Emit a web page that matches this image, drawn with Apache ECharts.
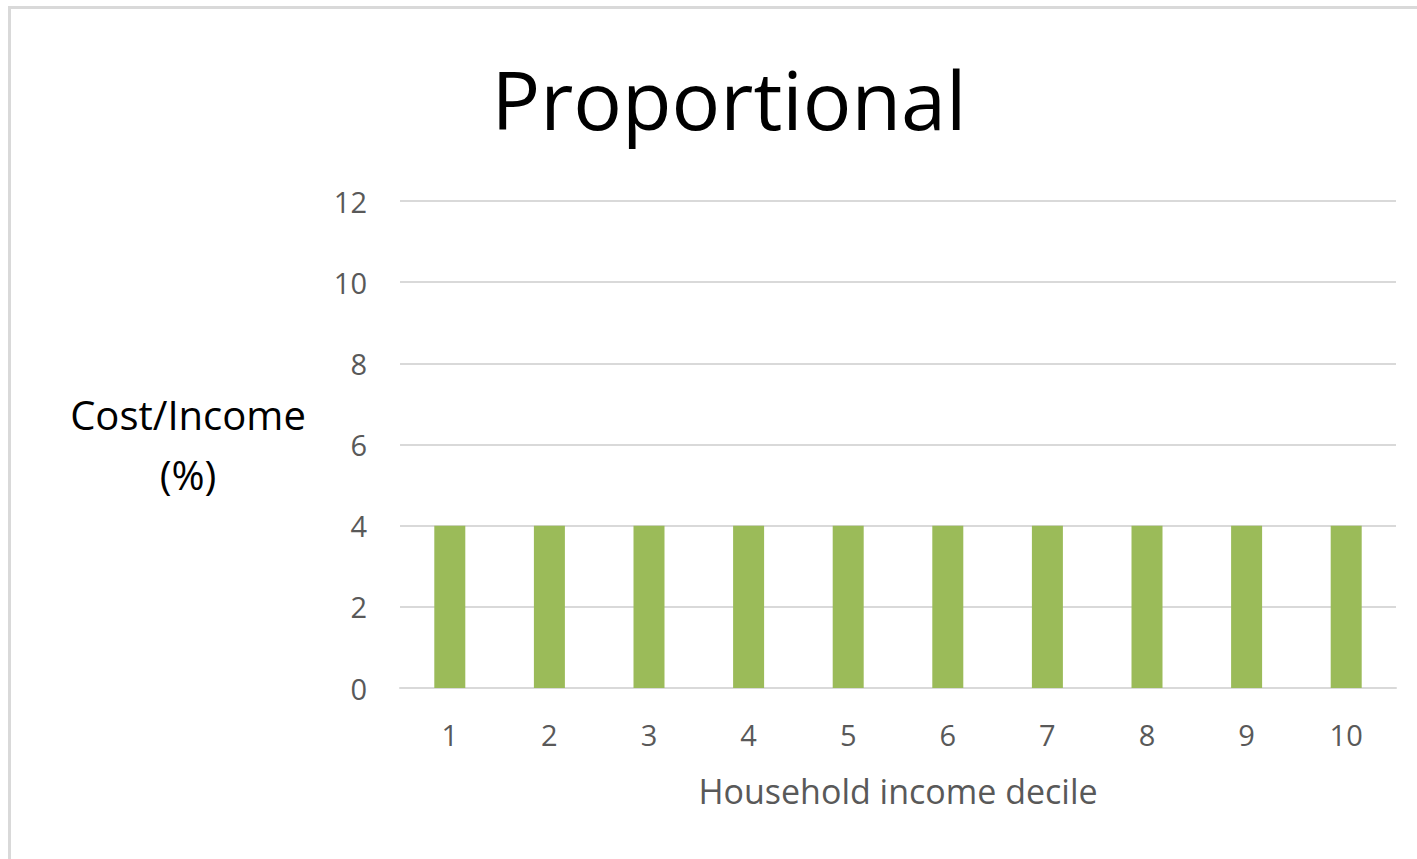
<!DOCTYPE html>
<html>
<head>
<meta charset="utf-8">
<style>
html,body{margin:0;padding:0;background:#fff;}
#chart{width:1417px;height:859px;}
</style>
<script src="https://cdn.jsdelivr.net/npm/echarts@6/dist/echarts.min.js"></script>
</head>
<body>
<div id="chart"></div>
<script>
const categories = ['1','2','3','4','5','6','7','8','9','10'];
const costIncome = [4,4,4,4,4,4,4,4,4,4];
const chartTitle = 'Proportional';
const yName = 'Cost/Income\n(%)';
const xName = 'Household income decile';

const chart = echarts.init(document.getElementById('chart'), null, {renderer:'svg'});
const font = '"Open Sans", "Noto Sans", sans-serif';
chart.setOption({
  animation:false,
  backgroundColor:'#fff',
  graphic:[{
    type:'rect', silent:true, z:-10,
    shape:{x:9.5,y:7.5,width:1430,height:880},
    style:{fill:'#fff',stroke:'#d9d9d9',lineWidth:3}
  }],
  title:{
    text:chartTitle, left:724, top:53, textAlign:'center',
    textStyle:{fontFamily:font,fontSize:81,fontWeight:'normal',color:'#000'}
  },
  grid:{left:400,right:21,top:201,bottom:171,containLabel:false},
  xAxis:{
    type:'category', data:categories,
    axisLine:{show:true,lineStyle:{color:'#d9d9d9',width:2}},
    axisTick:{show:false},
    axisLabel:{margin:32,fontFamily:font,fontSize:29,color:'#595959'},
    name:xName, nameLocation:'middle', nameGap:86,
    nameTextStyle:{fontFamily:font,fontSize:34,color:'#595959'}
  },
  yAxis:{
    type:'value', min:0, max:12, interval:2,
    axisLine:{show:false}, axisTick:{show:false},
    splitLine:{lineStyle:{color:'#d9d9d9',width:2}},
    axisLabel:{margin:33,fontFamily:font,fontSize:29,color:'#595959'},
    name:yName, nameLocation:'middle', nameGap:212, nameRotate:0,
    nameTextStyle:{fontFamily:font,fontSize:40,color:'#000',align:'center',verticalAlign:'middle',lineHeight:60}
  },
  series:[{
    type:'bar', data:costIncome, barWidth:31,
    itemStyle:{color:'#9bbb59'}
  }]
});
</script>
</body>
</html>
